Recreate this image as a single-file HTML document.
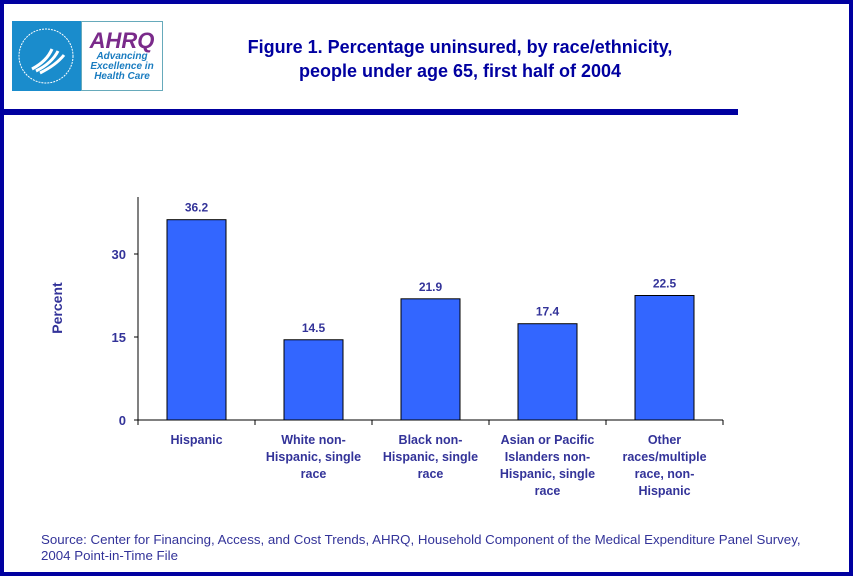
<!DOCTYPE html>
<html><head><meta charset="utf-8"><style>
body{margin:0;width:853px;height:576px;overflow:hidden;font-family:"Liberation Sans",sans-serif;}
.frame{position:absolute;left:0;top:0;width:845px;height:568px;border:4px solid #0000a0;background:#fff;}
</style></head><body>
<div class="frame"></div>
<div style="position:absolute;left:12px;top:21px;width:69px;height:70px;background:#1a8ccc;"><svg width="69" height="70"><circle cx="34" cy="35" r="27" fill="none" stroke="#fff" stroke-width="1" stroke-dasharray="2 1"/><path d="M20 48 Q35 40 40 28 M24 50 Q40 42 46 30 M28 52 Q44 44 52 34" stroke="#fff" stroke-width="3" fill="none"/></svg></div>
<div style="position:absolute;left:81px;top:21px;width:80px;height:68px;border:1px solid #6ab;background:#fff;text-align:center;">
<div style="font:italic bold 22px 'Liberation Sans',sans-serif;color:#7a2a8a;margin-top:8px;line-height:22px;">AHRQ</div>
<div style="font:italic bold 10px 'Liberation Sans',sans-serif;color:#1a7cc0;line-height:10px;">Advancing<br>Excellence in<br>Health Care</div></div>
<div style="position:absolute;left:160px;top:35px;width:600px;text-align:center;font-weight:bold;font-size:18px;line-height:24px;color:#0000a0;">Figure 1. Percentage uninsured, by race/ethnicity,<br>people under age 65, first half of 2004</div>
<div style="position:absolute;left:0;top:109px;width:738px;height:6px;background:#0000a0;"></div>
<svg id="c" width="853" height="576" style="position:absolute;left:0;top:0" font-family="Liberation Sans, sans-serif"></svg>
<div style="position:absolute;left:41px;top:532px;font-size:13.3px;line-height:16px;color:#333399;white-space:nowrap;">Source: Center for Financing, Access, and Cost Trends, AHRQ, Household Component of the Medical Expenditure Panel Survey,<br>2004 Point-in-Time File</div>
<script>
const categories=[["Hispanic"],["White non-","Hispanic, single","race"],["Black non-","Hispanic, single","race"],["Asian or Pacific","Islanders non-","Hispanic, single","race"],["Other","races/multiple","race, non-","Hispanic"]];
const values=[36.2,14.5,21.9,17.4,22.5];
const yTicks=[0,15,30];
const svg=document.getElementById('c');const NS='http://www.w3.org/2000/svg';
const x0=138,cw=117,y0=420,ppu=83/15,bw=59,txt='#333399';
const y=v=>y0-v*ppu;
function mk(t,a,p){const e=document.createElementNS(NS,t);for(const k in a)e.setAttribute(k,a[k]);(p||svg).appendChild(e);return e;}
const ax=mk('line',{x1:x0,y1:197,x2:x0,y2:y0,stroke:'#000'});


const bx=mk('line',{x1:x0-4,y1:y0,x2:x0+cw*categories.length,y2:y0,stroke:'#000'});


yTicks.forEach(v=>{mk('line',{x1:x0-4,y1:y(v),x2:x0,y2:y(v),stroke:'#000'});
const t=mk('text',{x:x0-12,y:y(v)+5,'text-anchor':'end','font-size':13,'font-weight':'bold',fill:txt});t.textContent=v;

});
for(let i=0;i<=categories.length;i++)mk('line',{x1:x0+i*cw,y1:y0,x2:x0+i*cw,y2:y0+5,stroke:'#000'});
values.forEach((v,i)=>{const cx=x0+cw*i+cw/2;
const r=mk('rect',{x:cx-bw/2,y:y(v),width:bw,height:y0-y(v),fill:'#3366ff',stroke:'#000'});


const t=mk('text',{x:cx,y:y(v)-8,'text-anchor':'middle','font-size':12,'font-weight':'bold',fill:txt});t.textContent=v.toFixed(1);


categories[i].forEach((l,j)=>{const c=mk('text',{x:cx,y:444+j*17,'text-anchor':'middle','font-size':12.5,'font-weight':'bold',fill:txt});c.textContent=l;

});});
const yt=mk('text',{x:62,y:308,transform:'rotate(-90 62 308)','text-anchor':'middle','font-size':14,'font-weight':'bold',fill:txt});yt.textContent='Percent';


</script>
</body></html>
